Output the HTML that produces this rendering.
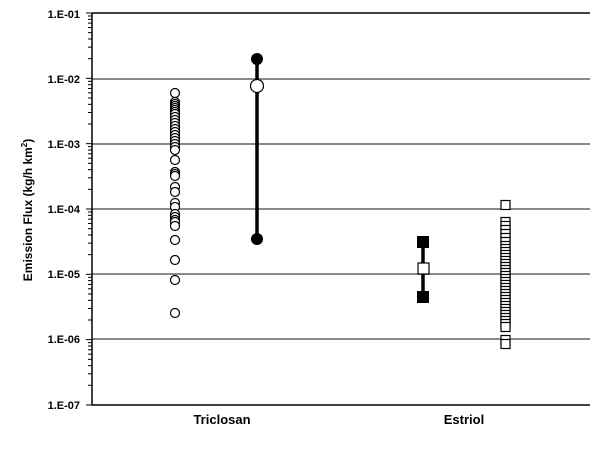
<!DOCTYPE html>
<html><head><meta charset="utf-8"><style>
html,body{margin:0;padding:0;background:#fff;}
svg text{font-family:"Liberation Sans",sans-serif;font-weight:bold;}
</style></head><body>
<svg id="s" width="609" height="459" xmlns="http://www.w3.org/2000/svg">
<rect width="609" height="459" fill="#fff"/>
<g stroke="#8a8a8a" stroke-width="2">
<line x1="92" y1="79" x2="590" y2="79"/>
<line x1="92" y1="144" x2="590" y2="144"/>
<line x1="92" y1="209" x2="590" y2="209"/>
<line x1="92" y1="274" x2="590" y2="274"/>
<line x1="92" y1="339" x2="590" y2="339"/>
</g>
<line x1="92" y1="13" x2="590" y2="13" stroke="#000" stroke-width="1.5"/>
<line x1="92" y1="13" x2="92" y2="405" stroke="#000" stroke-width="1.5"/>
<line x1="92" y1="405" x2="590" y2="405" stroke="#000" stroke-width="1.5"/>
<g id="ticks" stroke="#000" stroke-width="1"></g>
<g font-size="11" text-anchor="end" fill="#000">
<text x="80" y="18">1.E-01</text>
<text x="80" y="83">1.E-02</text>
<text x="80" y="148">1.E-03</text>
<text x="80" y="213">1.E-04</text>
<text x="80" y="278">1.E-05</text>
<text x="80" y="343">1.E-06</text>
<text x="80" y="409">1.E-07</text>
</g>
<text x="222" y="424" font-size="13" text-anchor="middle">Triclosan</text>
<text x="464" y="424" font-size="13" text-anchor="middle">Estriol</text>
<text transform="translate(32,210) rotate(-90)" font-size="12" text-anchor="middle">Emission Flux (kg/h km<tspan font-size="8" dy="-5">2</tspan><tspan dy="5">)</tspan></text>
<g id="pts" fill="#fff" stroke="#000" stroke-width="1.2"></g>
<line x1="257" y1="59" x2="257" y2="239" stroke="#000" stroke-width="3.5"/>
<circle cx="257" cy="86" r="6.5" fill="#fff" stroke="#000" stroke-width="1.2"/>
<circle cx="257" cy="59" r="6" fill="#000"/>
<circle cx="257" cy="239" r="6" fill="#000"/>
<line x1="423" y1="242" x2="423" y2="297" stroke="#000" stroke-width="3.5"/>
<rect x="418" y="263" width="11" height="11" fill="#fff" stroke="#000" stroke-width="1.2"/>
<rect x="417" y="236" width="12" height="12" fill="#000"/>
<rect x="417" y="291" width="12" height="12" fill="#000"/>
</svg>
<script>
var ns="http://www.w3.org/2000/svg",t=document.getElementById("ticks"),p=document.getElementById("pts");
for(var d=0;d<6;d++){for(var k=2;k<=9;k++){var y=13+65.33*(d+1)-65.33*Math.log10(k);var l=document.createElementNS(ns,"line");l.setAttribute("x1",88);l.setAttribute("x2",92);l.setAttribute("y1",y);l.setAttribute("y2",y);t.appendChild(l);}}
for(var i=0;i<7;i++){var y=13+65.33*i;var l=document.createElementNS(ns,"line");l.setAttribute("x1",86);l.setAttribute("x2",92);l.setAttribute("y1",y);l.setAttribute("y2",y);t.appendChild(l);}
var cy=[93,102,104,106,108,110,112,114,117,120,123,126,129,132,135,138,141,144,147,150,160,172,174,176,187,192,203,207,214,217,220,222,226,240,260,280,313];
cy.forEach(function(y){var c=document.createElementNS(ns,"circle");c.setAttribute("cx",175);c.setAttribute("cy",y);c.setAttribute("r",4.5);p.appendChild(c);});
var sy=[205,222,226,230,234,238,242,246,249,252,255,258,261,264,267,270,273,276,279,282,285,288,291,294,297,300,303,306,309,312,315,318,321,324,327,340,344];
sy.forEach(function(y){var r=document.createElementNS(ns,"rect");r.setAttribute("x",501);r.setAttribute("y",y-4.5);r.setAttribute("width",9);r.setAttribute("height",9);p.appendChild(r);});
</script>
</body></html>
